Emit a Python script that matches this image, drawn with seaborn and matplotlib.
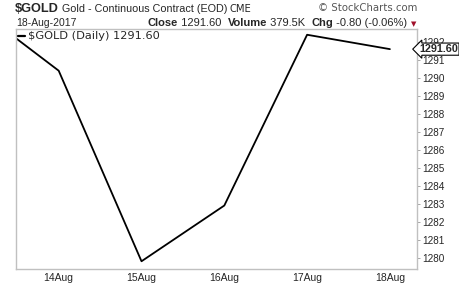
import matplotlib
matplotlib.use("Agg")
import matplotlib.pyplot as plt
import seaborn as sns
import pandas as pd

dates = ["11Aug", "14Aug", "15Aug", "16Aug", "17Aug", "18Aug"]
closes = [1293.9, 1290.4, 1279.8, 1282.9, 1292.4, 1291.6]
tick_dates = ["14Aug", "15Aug", "16Aug", "17Aug", "18Aug"]
y_ticks = list(range(1280, 1293))

sns.set_style("white")
plt.rcParams['font.family'] = ['Liberation Sans', 'DejaVu Sans']

df = pd.DataFrame({"idx": range(len(dates)), "close": closes, "date": dates})

W, H = 460, 284
fig = plt.figure(figsize=(W/100, H/100), dpi=100)
L, R, T, B = 16, 417, 29, 269
ax = fig.add_axes([L/W, 1-B/H, (R-L)/W, (B-T)/H])
sns.lineplot(data=df, x="idx", y="close", ax=ax, color="black", linewidth=1.3)

# x: 14Aug at px 58.7, spacing 82.8 px
x0 = 1 - (58.7 - L)/82.8
x1 = 1 + (R - 58.7)/82.8
ax.set_xlim(x0, x1)
ax.set_ylim(1279.37, 1292.72)
ax.set_xlabel("")
ax.set_ylabel("")

ax.set_xticks([dates.index(d) for d in tick_dates])
ax.set_xticklabels(tick_dates, fontsize=7.5)
ax.yaxis.tick_right()
ax.set_yticks(y_ticks)
ax.set_yticklabels([str(v) for v in y_ticks], fontsize=7.2)
ax.tick_params(axis='x', length=2, width=0.6, color="#999999", pad=1)
ax.tick_params(axis='y', length=2, width=0.6, color="#999999", pad=2)
for s in ax.spines.values():
    s.set_color("#c0c0c0")
    s.set_linewidth(1)

renderer = fig.canvas.get_renderer()

def fit_text(x, y, s, width, ha="left", **kw):
    """Place text and scale its font so it spans `width` pixels."""
    t = fig.text(x/W, 1-y/H, s, fontsize=10, va="center", ha=ha, **kw)
    w = t.get_window_extent(renderer=renderer).width
    t.set_fontsize(10*width/w)
    return t

# legend line
fig.lines.append(plt.Line2D([18/W, 25/W], [1-36/H, 1-36/H], color="black", lw=1.6,
                            transform=fig.transFigure))
fit_text(28, 36, r"\$GOLD (Daily) 1291.60", 132, family="DejaVu Sans")

# last value tag
ax.annotate("1291.60", xy=(1.0, closes[-1]), xycoords=("axes fraction", "data"),
            xytext=(1.5, 0), textcoords="offset points", fontsize=7.8, fontweight="bold",
            va="center", ha="left", zorder=10, annotation_clip=False,
            bbox=dict(boxstyle="larrow,pad=0.1", fc="white", ec="black", lw=0.8))

# Header line 1
fit_text(15, 8.5, r"\$GOLD", 44, fontweight="bold")
fit_text(62, 8.5, "Gold - Continuous Contract (EOD)", 165)
fit_text(230, 8.5, "CME", 22, family="DejaVu Sans")
fit_text(417, 8, "© StockCharts.com", 99, ha="right", family="DejaVu Sans", color="#555555")

# Header line 2
fit_text(16, 23.5, "18-Aug-2017", 60)
parts = [("Close", True), (" 1291.60  ", False), ("Volume", True), (" 379.5K  ", False),
         ("Chg", True), (" -0.80 (-0.06%)", False)]
ts = []
for txt, bold in parts:
    ts.append(fig.text(0, 1-23.5/H, txt, fontsize=10, fontweight="bold" if bold else "normal",
                       va="center", ha="left"))
total = sum(t.get_window_extent(renderer=renderer).width for t in ts)
scale = 260/total
x = 148
for t in ts:
    t.set_fontsize(10*scale)
    t.set_x(x/W)
    x += t.get_window_extent(renderer=renderer).width
fig.text(411/W, 1-24/H, "▼", fontsize=5, color="#a0102a", va="center", ha="left",
         family="DejaVu Sans")

fig.savefig("out.png", dpi=100)
